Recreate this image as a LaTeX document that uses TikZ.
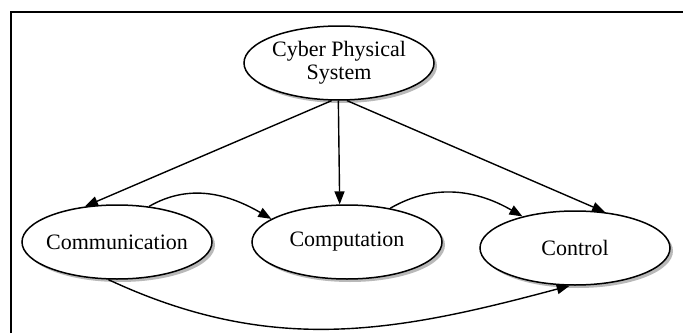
\documentclass[tikz,border=0pt]{standalone}
\usepackage{fontspec}
\setmainfont{Liberation Serif}
\usepackage{tikz}
\usetikzlibrary{arrows.meta, shapes.geometric, shadows}
\usetikzlibrary{positioning, calc}
\tikzset{
    blob/.style = {ellipse, draw=black, line width=1.5pt, fill=white,
        inner xsep=-4pt, inner ysep=0pt, align=center,
        minimum width=190pt, minimum height=74pt,
        font=\fontsize{22}{23}\selectfont,
        drop shadow={shadow xshift=3pt, shadow yshift=-3pt, fill=black!55}},
    link/.style = {->, line width=1.4pt},
}

\begin{document}
\begin{tikzpicture}[x=1pt, y=1pt, >={Triangle[length=13pt, width=10pt]}]
        \useasboundingbox (0,0) rectangle (683,333);
        \draw[line width=2.2pt] (11,0) -- (11,321) -- (683,321);
        \node [blob] (cps) at (339,270) {Cyber Physical\\System};
        \node [blob] (comm) at (117,91) {Communication};
        \node [blob] (comp) at (347,91) {Computation};
        \node [blob] (ctrl) at (575,85) {Control};
        % from the system down
        \draw [link] (cps.259) -- (comm.132);
        \draw [link] (cps.269) -- (comp.101);
        \draw [link] (cps.282) -- (ctrl.50);
        % along the row
        \draw [link] (comm.48) to[out=30, in=150] (comp.163);
        \draw [link] (comp.38) to[out=30, in=150] (ctrl.149);
        \draw [link] (comm.257) to[out=-25, in=195] (ctrl.262);
\end{tikzpicture}
\end{document}
